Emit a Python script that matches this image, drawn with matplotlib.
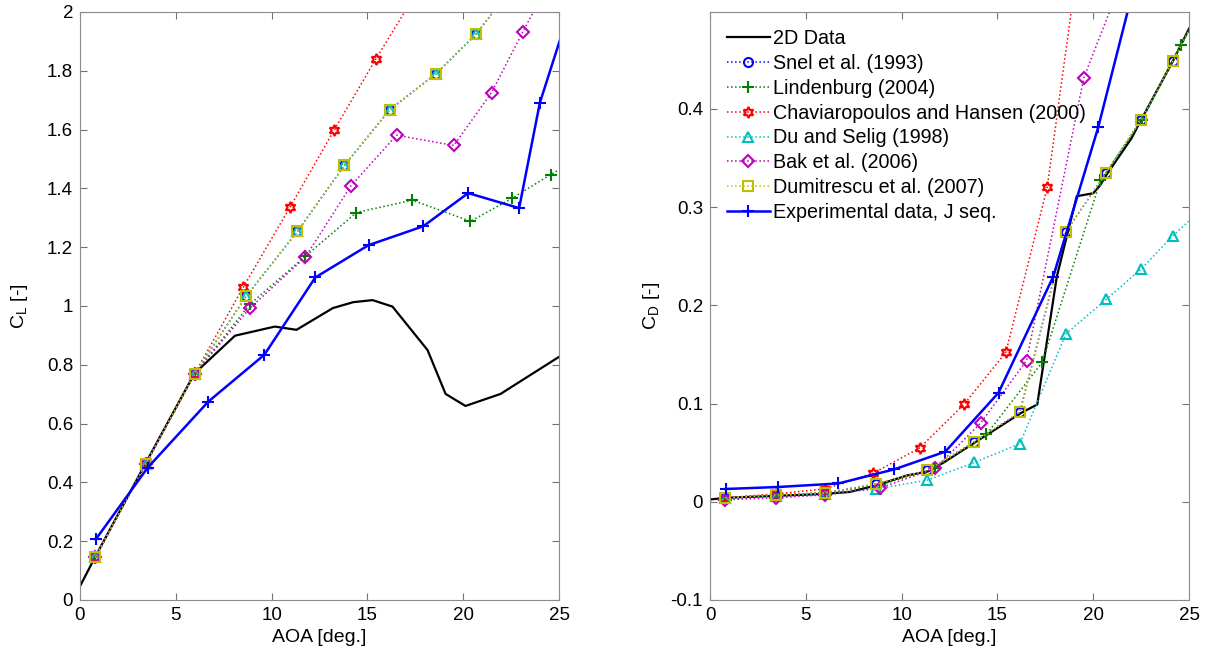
import matplotlib
matplotlib.use("Agg")
import matplotlib.pyplot as plt
from matplotlib.ticker import FuncFormatter

plt.rcParams['font.family'] = ['Liberation Sans', 'DejaVu Sans']

# 2D data
x_2d_cl = [0, 0.78, 3.39, 5.97, 8.09, 10.17, 11.3, 13.2, 14.26, 15.27, 16.31, 18.14, 19.08, 20.12, 21.95, 25]
cl_2d = [0.047, 0.145, 0.461, 0.770, 0.899, 0.930, 0.919, 0.993, 1.013, 1.020, 0.998, 0.850, 0.701, 0.660, 0.701, 0.827]
x_2d_cd = [0, 0.8, 3.42, 5.99, 7.3, 8.67, 10.27, 11.4, 12.18, 13.8, 16.2, 17.08, 18.1, 19.14, 20.0, 20.36, 20.7,
           22.0, 22.51, 24.17, 25]
cd_2d = [0.0023, 0.004, 0.006, 0.008, 0.010, 0.0166, 0.0267, 0.031, 0.0397, 0.060, 0.090, 0.099, 0.229, 0.311, 0.314,
         0.322, 0.333, 0.37, 0.389, 0.449, 0.4815]

# Snel / Du & Selig / Dumitrescu share AOA points
x_snel = [0.8, 3.42, 5.99, 8.67, 11.35, 13.8, 16.17, 18.58, 20.68, 22.51, 24.17, 25.8]
cl_snel = [0.145, 0.461, 0.770, 1.033, 1.254, 1.478, 1.668, 1.790, 1.925, 2.08, 2.2, 2.3]
cd_snel = [0.004, 0.007, 0.009, 0.018, 0.032, 0.061, 0.091, 0.275, 0.335, 0.389, 0.449, 0.51]
cl_du = cl_snel
cd_du = [0.004, 0.006, 0.008, 0.013, 0.022, 0.040, 0.059, 0.171, 0.206, 0.237, 0.271, 0.30]
cl_dum = cl_snel
cd_dum = cd_snel

x_lind = [0.8, 3.42, 5.99, 8.87, 11.76, 14.43, 17.34, 20.38, 22.57, 24.56, 26.0]
cl_lind = [0.145, 0.461, 0.770, 1.006, 1.169, 1.318, 1.360, 1.288, 1.367, 1.447, 1.50]
cd_lind = [0.004, 0.007, 0.009, 0.017, 0.0345, 0.0686, 0.142, 0.327, 0.389, 0.465, 0.513]

x_chav = [0.8, 3.42, 5.99, 8.52, 10.96, 13.27, 15.44, 17.6, 19.7]
cl_chav = [0.145, 0.461, 0.770, 1.064, 1.336, 1.599, 1.840, 2.07, 2.3]
cd_chav = [0.004, 0.008, 0.013, 0.029, 0.055, 0.0994, 0.152, 0.320, 0.62]

x_bak = [0.8, 3.42, 5.99, 8.87, 11.76, 14.12, 16.52, 19.51, 21.48, 23.1, 24.8]
cl_bak = [0.145, 0.461, 0.770, 0.993, 1.166, 1.407, 1.581, 1.546, 1.726, 1.931, 2.14]
cd_bak = [0.002, 0.004, 0.007, 0.014, 0.034, 0.080, 0.1436, 0.4316, 0.53, 0.62, 0.72]

x_exp = [0.82, 3.53, 6.70, 9.62, 12.28, 15.06, 17.91, 20.26, 22.92, 24.0, 26.5]
cl_exp = [0.206, 0.450, 0.675, 0.834, 1.097, 1.207, 1.271, 1.384, 1.333, 1.691, 2.2]
cd_exp = [0.013, 0.015, 0.0186, 0.033, 0.051, 0.111, 0.229, 0.381, 0.585, 0.68, 0.9]

labels = ['2D Data', 'Snel et al. (1993)', 'Lindenburg (2004)', 'Chaviaropoulos and Hansen (2000)',
          'Du and Selig (1998)', 'Bak et al. (2006)', 'Dumitrescu et al. (2007)', 'Experimental data, J seq.']

blue = (0, 0, 1)
green = (0, 0.5, 0)
red = (1, 0, 0)
cyan = (0, 0.75, 0.75)
magenta = (0.75, 0, 0.75)
yellow = (0.75, 0.75, 0)

fig = plt.figure(figsize=(12.12, 6.55), dpi=100)
ax1 = fig.add_axes([80 / 1212, 55 / 655, 479 / 1212, 588 / 655])
ax2 = fig.add_axes([710 / 1212, 55 / 655, 479 / 1212, 588 / 655])


def model(ax, x, y, color, marker, label, ms=6.5):
    ax.plot(x, y, linestyle=':', color=color, lw=1.1, marker=marker, ms=ms, mfc='none', mec=color, mew=1.5,
            label=label)


for ax, key in [(ax1, 'cl'), (ax2, 'cd')]:
    if key == 'cl':
        ax.plot(x_2d_cl, cl_2d, color='k', lw=1.6, label=labels[0])
        data = [cl_snel, cl_lind, cl_chav, cl_du, cl_bak, cl_dum, cl_exp]
    else:
        ax.plot(x_2d_cd, cd_2d, color='k', lw=1.6, label=labels[0])
        data = [cd_snel, cd_lind, cd_chav, cd_du, cd_bak, cd_dum, cd_exp]
    model(ax, x_snel, data[0], blue, 'o', labels[1])
    model(ax, x_lind, data[1], green, '+', labels[2], ms=8)
    model(ax, x_chav, data[2], red, (6, 1, 0), labels[3], ms=8)
    model(ax, x_snel, data[3], cyan, '^', labels[4], ms=7)
    model(ax, x_bak, data[4], magenta, 'D', labels[5])
    model(ax, x_snel, data[5], yellow, 's', labels[6], ms=7)
    ax.plot(x_exp, data[6], color=blue, lw=1.8, marker='+', ms=9, mew=1.5, label=labels[7])

    ax.set_xlim(0, 25)
    ax.set_xticks([0, 5, 10, 15, 20, 25])
    ax.tick_params(direction='in', top=True, right=True, labelsize=13.5, color='0.45', length=5, pad=5)
    for s in ax.spines.values():
        s.set_color('0.55')
    ax.set_xlabel('AOA [deg.]', fontsize=14, labelpad=4)
    ax.yaxis.set_major_formatter(FuncFormatter(lambda v, p: '%g' % round(v, 4)))

ax1.set_ylim(0, 2)
ax1.set_yticks([0, 0.2, 0.4, 0.6, 0.8, 1, 1.2, 1.4, 1.6, 1.8, 2])
ax1.set_ylabel(r'C$_\mathregular{L}$ [-]', fontsize=14, labelpad=12)

ax2.set_ylim(-0.1, 0.4985)
ax2.set_yticks([-0.1, 0, 0.1, 0.2, 0.3, 0.4])
ax2.set_ylabel(r'C$_\mathregular{D}$ [-]', fontsize=14, labelpad=6)

ax2.legend(loc='upper left', frameon=False, fontsize=14.2, handlelength=2.2, handletextpad=0.15,
           labelspacing=0.3, borderaxespad=0.5, borderpad=0.35, numpoints=1)

fig.savefig('out.png', dpi=100)
